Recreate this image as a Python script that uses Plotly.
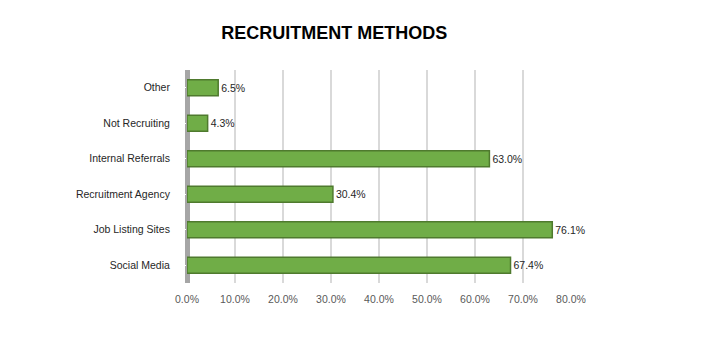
import plotly.graph_objects as go

categories = ["Social Media", "Job Listing Sites", "Recruitment Agency",
              "Internal Referrals", "Not Recruiting", "Other"]
values = [67.4, 76.1, 30.4, 63.0, 4.3, 6.5]
tick_vals = [0, 10, 20, 30, 40, 50, 60, 70, 80]
tick_text = ["0.0%", "10.0%", "20.0%", "30.0%", "40.0%", "50.0%", "60.0%", "70.0%", "80.0%"]

fig = go.Figure()
fig.add_trace(go.Bar(
    y=categories, x=values, orientation="h",
    marker=dict(color="#70AD47", line=dict(color="#4F7A2E", width=1.5)),
    text=[f"{v:.1f}%" for v in values], textposition="outside",
    textfont=dict(family="Liberation Sans, Arial", size=10.5, color="#262626"),
    cliponaxis=False,
))

fig.update_layout(
    width=700, height=346,
    paper_bgcolor="white", plot_bgcolor="white",
    margin=dict(l=179, r=137, t=62, b=71),
    title=dict(text="<b>RECRUITMENT METHODS</b>", x=0.466, xanchor="center", y=0.928, yanchor="middle",
               font=dict(family="Liberation Sans, Arial", size=18, color="#000000")),
    bargap=0.55,
    showlegend=False,
    xaxis=dict(range=[0, 80], tickvals=tick_vals, ticktext=tick_text,
               showgrid=True, gridcolor="#D9D9D9", gridwidth=1.5,
               zeroline=True, zerolinecolor="#A6A6A6", zerolinewidth=5,
               tickfont=dict(family="Liberation Sans, Arial", size=10.5, color="#595959"),
               ticks="outside", ticklen=6, tickcolor="white", fixedrange=True),
    yaxis=dict(tickfont=dict(family="Liberation Sans, Arial", size=10.5, color="#262626"),
               ticks="outside", ticklen=14, tickcolor="white", showgrid=False),
)

fig.write_html("out.html")
